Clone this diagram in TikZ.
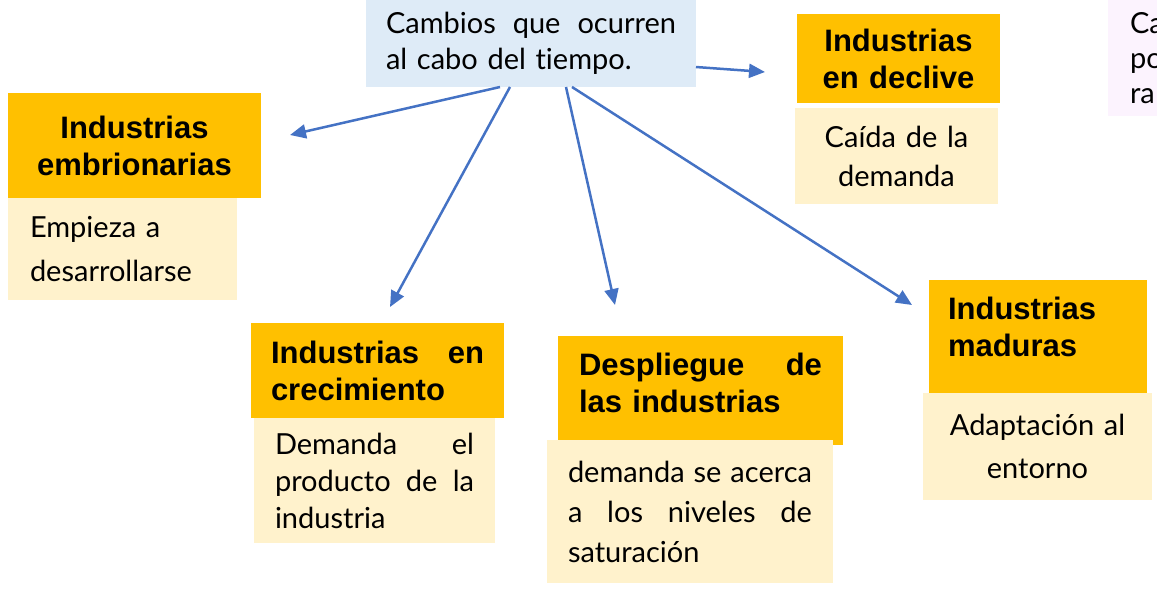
\documentclass[tikz,border=0pt]{standalone}
\usepackage{fontspec}
\setmainfont{Lato}[Ligatures=NoCommon]
\newfontfamily\headfont{Liberation Sans}
\usetikzlibrary{arrows.meta,positioning}
\definecolor{naranja}{HTML}{FFC000}
\definecolor{crema}{HTML}{FFF2CC}
\definecolor{celeste}{HTML}{DEEBF7}
\definecolor{lila}{HTML}{FCF3FE}
\definecolor{azul}{HTML}{4472C4}
\tikzset{caja/.style={rectangle, anchor=north west, inner ysep=0pt, outer sep=0pt},
	titulo/.style={caja, fill=naranja, font=\headfont\bfseries\fontsize{15.5}{18.5}\selectfont},
	texto/.style={caja, fill=crema, font=\fontsize{14.5}{#1}\selectfont},
	texto/.default=19pt,
	flecha/.style={draw=azul, line width=1.25pt, -{Triangle[length=8pt,width=7pt]}}}

\begin{document}
\begin{tikzpicture}[x=0.5pt,y=-0.5pt]
		\clip (0,0) rectangle (1157,589);
		\node[caja, fill=celeste, minimum width=165pt, minimum height=43.5pt, inner xsep=10pt, text width=145pt, align=left, font=\fontsize{14.5}{18}\selectfont] (cambios) at (366,0) {Cambios\hfill que\hfill ocurren\\al cabo del tiempo.};
		
		\node[titulo, minimum width=101.5pt, minimum height=44.5pt, inner xsep=4pt, text width=93.5pt, align=center] (declive) at (797,14) {Industrias\\en declive};
		\node[texto=19.5pt, minimum width=101.5pt, minimum height=48pt, inner xsep=4pt, text width=93.5pt, align=center] (caida) at (795,108) {Caída de la\\demanda};
		
		\node[titulo, minimum width=126.5pt, minimum height=52.5pt, inner xsep=2pt, text width=122.5pt, align=center] (embrion) at (8,93) {Industrias\\embrionarias};
		\node[texto=22pt, minimum width=114.5pt, minimum height=51pt, inner xsep=11pt, text width=92.5pt, align=left] (empieza) at (8,198) {Empieza a\\desarrollarse};
		
		\node[titulo, minimum width=126.5pt, minimum height=47.5pt, inner xsep=10pt, text width=106.5pt, align=left] (crece) at (251,323) {Industrias\hfill en\\crecimiento};
		\node[texto=18.5pt, minimum width=120.5pt, minimum height=62.5pt, inner xsep=10.5pt, text width=99.5pt, align=left] (demanda) at (254,418) {Demanda\hfill el\\producto\hfill de\hfill la\\industria};
		
		\node[titulo, minimum width=142.5pt, minimum height=54.5pt, inner xsep=10.5pt, text width=121.5pt, align=left, text height=4pt] (despliegue) at (558,336) {Despliegue\hfill de\\las industrias};
		\node[texto=20pt, minimum width=143pt, minimum height=71.5pt, inner xsep=10.5pt, text width=122pt, align=left] (saturacion) at (547,440) {demanda\hfill se\hfill acerca\\a\hfill los\hfill niveles\hfill de\\saturación};
		
		\node[titulo, minimum width=109pt, minimum height=56.5pt, inner xsep=9.5pt, text width=90pt, align=left, text height=2pt] (maduras) at (929,280) {Industrias\\maduras};
		\node[texto=21.5pt, minimum width=114.5pt, minimum height=53.5pt, inner xsep=4pt, text width=106.5pt, align=center] (adapta) at (923,393) {Adaptación al\\entorno};
		
		\node[texto=17.5pt, fill=lila, minimum width=40pt, minimum height=58pt, inner xsep=11pt, text width=30pt, align=left] (nota) at (1108,0) {Ca\\po\\ra};
		
		\coordinate (e1) at (765,72);
		\coordinate (e2) at (290,135);
		\coordinate (e3) at (390,307);
		\coordinate (e4) at (615,305);
		\coordinate (e5) at (912,305);
		
		\draw[flecha]([yshift=-11.75pt]cambios.east)--(e1);
		\foreach \s/\e in{67pt/2,72pt/3,100pt/4,103pt/5}
		\draw[flecha]([xshift=\s]cambios.south west)--(e\e);
	\end{tikzpicture}
\end{document}
